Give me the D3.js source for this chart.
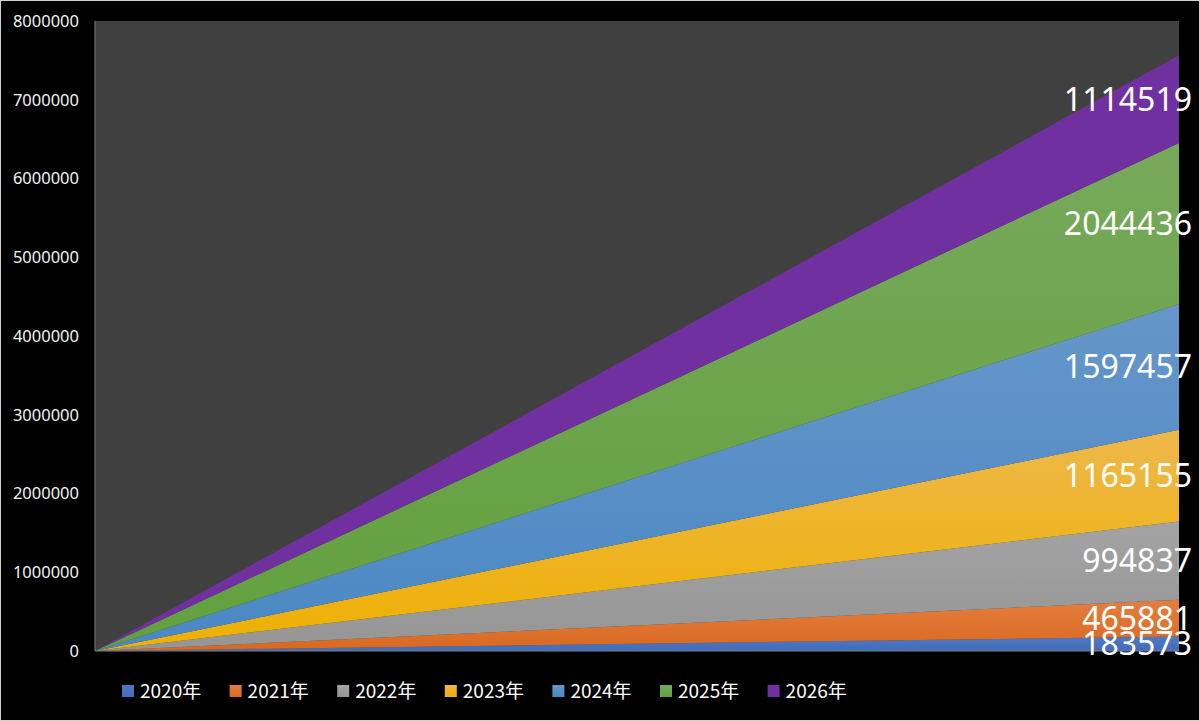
<!DOCTYPE html>
<html>
<head>
<meta charset="utf-8">
<title>Stacked area</title>
<script src="https://cdn.jsdelivr.net/npm/d3@7"></script>
<style>
  html, body { margin: 0; padding: 0; background: #000; }
  svg { display: block; }
</style>
</head>
<body>
<div id="chart"></div>
<script>
// data
var seriesNames = ["2020年", "2021年", "2022年", "2023年", "2024年", "2025年", "2026年"];
var seriesEnd = [183573, 465881, 994837, 1165155, 1597457, 2044436, 1114519];
var seriesStart = [0, 0, 0, 0, 0, 0, 0];
var xPoints = [0, 1];
var yTicks = [0, 1000000, 2000000, 3000000, 4000000, 5000000, 6000000, 7000000, 8000000];
var colors = ["#3f6cbd", "#d9681f", "#959595", "#eeb000", "#4a88c4", "#62a03e", "#7030a0"];
var topColors = ["#5279c2", "#e47e3f", "#a3a3a3", "#eeb84a", "#6696c9", "#77a95a", "#7030a0"];

var W = 1200, H = 721;
var margin = {top: 21, right: 21, bottom: 70, left: 95};
var width = 1179 - margin.left, height = 651 - margin.top;

var svg = d3.select("#chart").append("svg")
  .attr("width", W).attr("height", H);

svg.append("rect").attr("x", 0.5).attr("y", 0.5)
  .attr("width", W - 1).attr("height", H - 1)
  .attr("fill", "#000").attr("stroke", "#d0d0d0");

var defs = svg.append("defs");
colors.forEach(function(c, i) {
  var gr = defs.append("linearGradient").attr("id", "grad" + i)
    .attr("x1", 0).attr("y1", 0).attr("x2", 0).attr("y2", 1);
  gr.append("stop").attr("offset", "0%").attr("stop-color", topColors[i]);
  gr.append("stop").attr("offset", "100%").attr("stop-color", c);
});

var g = svg.append("g")
  .attr("transform", "translate(" + margin.left + "," + margin.top + ")");

var x = d3.scaleLinear().domain([0, 1]).range([0, width]);
var y = d3.scaleLinear().domain([0, 8000000]).range([height, 0]);

g.append("rect").attr("width", width).attr("height", height).attr("fill", "#404040");

// build table for d3.stack
var table = xPoints.map(function(p) {
  var row = {x: p};
  seriesNames.forEach(function(n, i) {
    row[n] = p === 0 ? seriesStart[i] : seriesEnd[i];
  });
  return row;
});

var stacked = d3.stack().keys(seriesNames)(table);

var area = d3.area()
  .x(function(d) { return x(d.data.x); })
  .y0(function(d) { return y(d[0]); })
  .y1(function(d) { return y(d[1]); });

g.selectAll("path.band").data(stacked).enter().append("path")
  .attr("class", "band")
  .attr("d", area)
  .attr("fill", function(d, i) { return "url(#grad" + i + ")"; });

// axis lines
g.append("line").attr("x1", 0).attr("x2", 0).attr("y1", 0).attr("y2", height)
  .attr("stroke", "#7f7f7f").attr("stroke-width", 1);
g.append("line").attr("x1", 0).attr("x2", width).attr("y1", height).attr("y2", height)
  .attr("stroke", "#7f7f7f").attr("stroke-width", 1);

// y axis
var yAxis = g.append("g").call(d3.axisLeft(y).tickValues(yTicks).tickSize(0).tickPadding(16)
  .tickFormat(d3.format("d")));
yAxis.select(".domain").remove();
yAxis.selectAll("text")
  .attr("fill", "#f2f2f2")
  .style("font-family", "'Noto Sans', sans-serif")
  .style("font-size", "16.5px");

// data labels at the last point
g.selectAll("text.lab").data(stacked).enter().append("text")
  .attr("class", "lab")
  .attr("x", width + 13)
  .attr("y", function(d) { var p = d[d.length - 1]; return y((p[0] + p[1]) / 2); })
  .attr("dy", "0.36em")
  .attr("text-anchor", "end")
  .attr("fill", "#fff")
  .style("font-family", "'Noto Sans', sans-serif")
  .style("font-size", "32px")
  .text(function(d) { var p = d[d.length - 1]; return p[1] - p[0]; });

// legend
var legend = svg.append("g").attr("transform", "translate(122,691)");
var item = legend.selectAll("g").data(seriesNames).enter().append("g")
  .attr("transform", function(d, i) { return "translate(" + (i * 107.6) + ",0)"; });
item.append("rect").attr("x", 0).attr("y", -6).attr("width", 12).attr("height", 12)
  .attr("fill", function(d, i) { return "url(#grad" + i + ")"; });
item.append("text").attr("x", 18).attr("dy", "0.36em")
  .attr("fill", "#fff")
  .style("font-family", "'Noto Sans CJK JP', 'Noto Sans', sans-serif")
  .style("font-size", "19px")
  .text(function(d) { return d; });
</script>
</body>
</html>
